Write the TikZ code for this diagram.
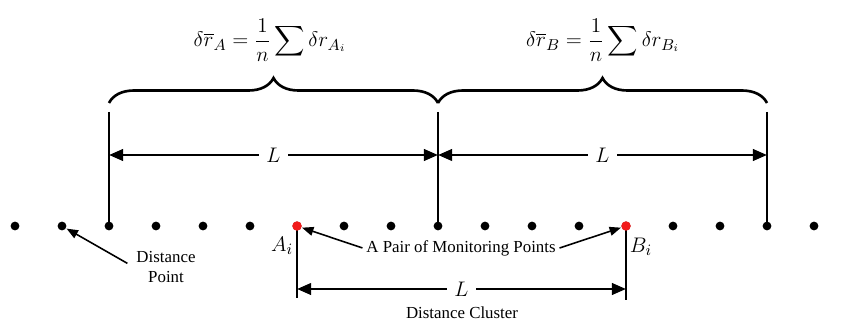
\documentclass[tikz,border=0pt]{standalone}
\usepackage{amsmath}
\usepackage{fontspec}
\setmainfont{Liberation Serif}
\usetikzlibrary{arrows.meta,decorations.pathreplacing}
\definecolor{monitor}{HTML}{F21B1B}

\begin{document}
\begin{tikzpicture}[x=0.02cm,y=-0.02cm,
  bar/.style={line width=1.5pt},
  span/.style={line width=1.5pt,{Triangle[length=8pt,width=6.5pt]}-{Triangle[length=8pt,width=6.5pt]}},
  ptr/.style={line width=0.9pt,-{Triangle[length=6.5pt,width=5pt]},shorten >=3pt},
  lbl/.style={font=\fontsize{9.6}{11.3}\selectfont,align=center,inner sep=2pt},
  brc/.style={line width=1.5pt,decorate,decoration={brace,amplitude=0.5cm}},
  eq/.style={font=\fontsize{12.5}{14}\selectfont},
  big/.style={font=\fontsize{13}{15}\selectfont,inner sep=1pt}]
  \useasboundingbox (0,0) rectangle (857,320);
  \foreach \k in {0,...,17}
    \coordinate (d\k) at ({15+47*\k},226);
  % window lines and braces
  \foreach \k in {2,9,16}
    \draw[bar] (d\k |- 0,112) coordinate (t\k) -- (d\k);
  \draw[brc] (109,103) -- (438,103);
  \draw[brc] (438,103) -- (767,103);
  \node[eq] (fa) at (270,40) {$\displaystyle\delta\overline{r}_{A}=\frac{1}{n}\sum\delta r_{A_i}$};
  \node[eq] (fb) at (603,40) {$\displaystyle\delta\overline{r}_{B}=\frac{1}{n}\sum\delta r_{B_i}$};
  \coordinate (a2) at (d2 |- 0,155);
  \coordinate (a9) at (d9 |- 0,155);
  \coordinate (a16) at (d16 |- 0,155);
  \draw[span] (a2) -- node[big,fill=white,inner xsep=4pt] (l1) {$L$} (a9);
  \draw[span] (a9) -- node[big,fill=white,inner xsep=4pt] (l2) {$L$} (a16);
  % distance cluster
  \draw[bar] (d6) -- (d6 |- 0,298) coordinate (b6);
  \draw[bar] (d13) -- (d13 |- 0,300) coordinate (b13);
  \coordinate (c6) at (d6 |- 0,289);
  \coordinate (c13) at (d13 |- 0,289);
  \draw[span] (c6) -- node[big,fill=white,inner xsep=4pt] (l3) {$L$} (c13);
  \node[lbl] (dc) at (462,313) {Distance Cluster};
  % points
  \foreach \k in {0,...,17}
    \fill (d\k) circle (2.5pt);
  \fill[monitor] (d6) circle (2.7pt);
  \fill[monitor] (d13) circle (2.7pt);
  \node[big] (ai) at (282,246) {$A_i$};
  \node[big] (bi) at (641,247) {$B_i$};
  \node[lbl] (pair) at (461,248) {A Pair of Monitoring Points};
  \draw[ptr] (pair.west) -- (d6);
  \draw[ptr] (pair.east) -- (d13);
  \node[lbl] (dp) at (166,267) {Distance\\Point};
  \draw[ptr] ([yshift=-9pt,xshift=-3pt]dp.north west) -- (d1);
\end{tikzpicture}
\end{document}
